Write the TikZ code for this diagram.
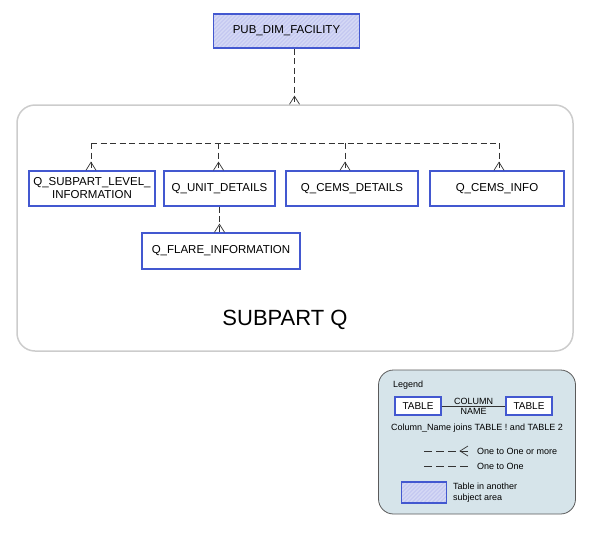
\documentclass[tikz,border=0pt]{standalone}
\usepackage{fontspec}
\setmainfont{Liberation Sans}
\usepackage{tikz}
\usetikzlibrary{calc}
\definecolor{tblue}{HTML}{4358D0}
\definecolor{hatch}{HTML}{C6CAF1}
\definecolor{hatchline}{HTML}{D9DCF6}
\definecolor{rule}{HTML}{333333}
\definecolor{frame}{HTML}{CCCCCC}
\definecolor{legfill}{HTML}{D6E4EA}
\definecolor{legline}{HTML}{5A5A5A}
\tikzset{
  tbl/.style={draw=tblue, line width=1.5pt, fill=white, inner sep=1pt, align=center, font=\fontsize{11.5}{13}\selectfont},
  other/.style={tbl, fill=hatch, path picture={
      \foreach \k in {-40,-36,...,150}
        \draw[hatchline, line width=0.8pt] ($(path picture bounding box.south west)+(\k,0)$) -- ++(50,-50);}},
  rel/.style={draw=rule, line width=0.9pt, dash pattern=on 6pt off 3.5pt},
  crowline/.style={draw=rule, line width=0.7pt, solid},
  crow/.pic={\draw[crowline] (-5,0) -- (0,-8) -- (5,0);},
  area/.style={draw=frame, line width=1.5pt, rounded corners=18pt},
  legbox/.style={draw=legline, fill=legfill, line width=0.8pt, rounded corners=15pt},
  lab/.style={font=\fontsize{9}{10.5}\selectfont, inner sep=0pt},
}
\begin{document}
\begin{tikzpicture}[x=1pt,y=-1pt]
  \useasboundingbox (0,0) rectangle (591,550);

  % subject area
  \node[area, minimum width=556pt, minimum height=246pt] (subq) at (295,228) {};
  \node[font=\fontsize{22}{26}\selectfont] (subqlab) at (285,320) {SUBPART Q};

  \node[other, minimum width=146pt, minimum height=34pt] (pub) at (286.5,31) {PUB\_DIM\_FACILITY};
  \node[tbl, minimum width=126pt, minimum height=35pt] (sub) at (92,188.5) {Q\_SUBPART\_LEVEL\_\\INFORMATION};
  \node[tbl, minimum width=111pt, minimum height=35pt] (unit) at (219.5,188.5) {Q\_UNIT\_DETAILS};
  \node[tbl, minimum width=132pt, minimum height=35pt] (cemsd) at (352,188.5) {Q\_CEMS\_DETAILS};
  \node[tbl, minimum width=134pt, minimum height=35pt] (cemsi) at (497,188.5) {Q\_CEMS\_INFO};
  \node[tbl, minimum width=158pt, minimum height=36pt] (flare) at (221,251) {Q\_FLARE\_INFORMATION};

  % relations
  \coordinate (drop) at ($(pub.south)+(8,0)$);
  \draw[rel] (drop) -- (drop |- subq.north);
  \pic at (drop |- subq.north) {crow};
  \coordinate (bus) at (0,143);
  \draw[rel] ($(bus -| sub.north)+(-1,0)$) -- ($(bus -| cemsi.north)+(2,0)$);
  \foreach \n/\dx in {sub/-1,unit/-1,cemsd/-7,cemsi/2}{
    \draw[rel] ($(bus -| \n.north)+(\dx,0)$) -- ($(\n.north)+(\dx,0)$);
    \pic at ($(\n.north)+(\dx,0)$) {crow};
  }
  \draw[rel] (unit.south) -- (unit.south |- flare.north);
  \pic at (unit.south |- flare.north) {crow};

  % legend
  \node[legbox, minimum width=197pt, minimum height=144pt] (legend) at (477,442) {};
  \node[lab, anchor=west] (legtitle) at (393,385) {Legend};
  \node[tbl, line width=1.2pt, minimum width=46pt, minimum height=18pt, font=\fontsize{10}{11}\selectfont] (tabA) at (418,406) {TABLE};
  \node[tbl, line width=1.2pt, minimum width=46pt, minimum height=18pt, font=\fontsize{10}{11}\selectfont] (tabB) at (529,406) {TABLE};
  \draw[draw=rule, line width=0.6pt] (tabA.east) -- node[lab, above=1.5pt] {COLUMN} node[lab, below=1.5pt] {NAME} (tabB.west);
  \node[lab] (joins) at (477,428) {Column\_Name joins TABLE ! and TABLE 2};
  \coordinate (many) at (424,451);
  \coordinate (manyend) at (468,451);
  \draw[rel, dash pattern=on 8pt off 4pt] (many) -- (manyend);
  \pic[rotate=90] at (manyend) {crow};
  \node[lab, anchor=west] (manytxt) at (477,451) {One to One or more};
  \coordinate (one) at (424,466);
  \coordinate (oneend) at (468,466);
  \draw[rel, dash pattern=on 8pt off 4pt] (one) -- (oneend);
  \node[lab, anchor=west] (onetxt) at (477,466) {One to One};
  \node[other, line width=1.2pt, minimum width=45pt, minimum height=21pt] (othbox) at (424,492.5) {};
  \node[lab, anchor=west, align=left] (othtxt) at (453,492.5) {Table in another\\subject area};
\end{tikzpicture}
\end{document}
